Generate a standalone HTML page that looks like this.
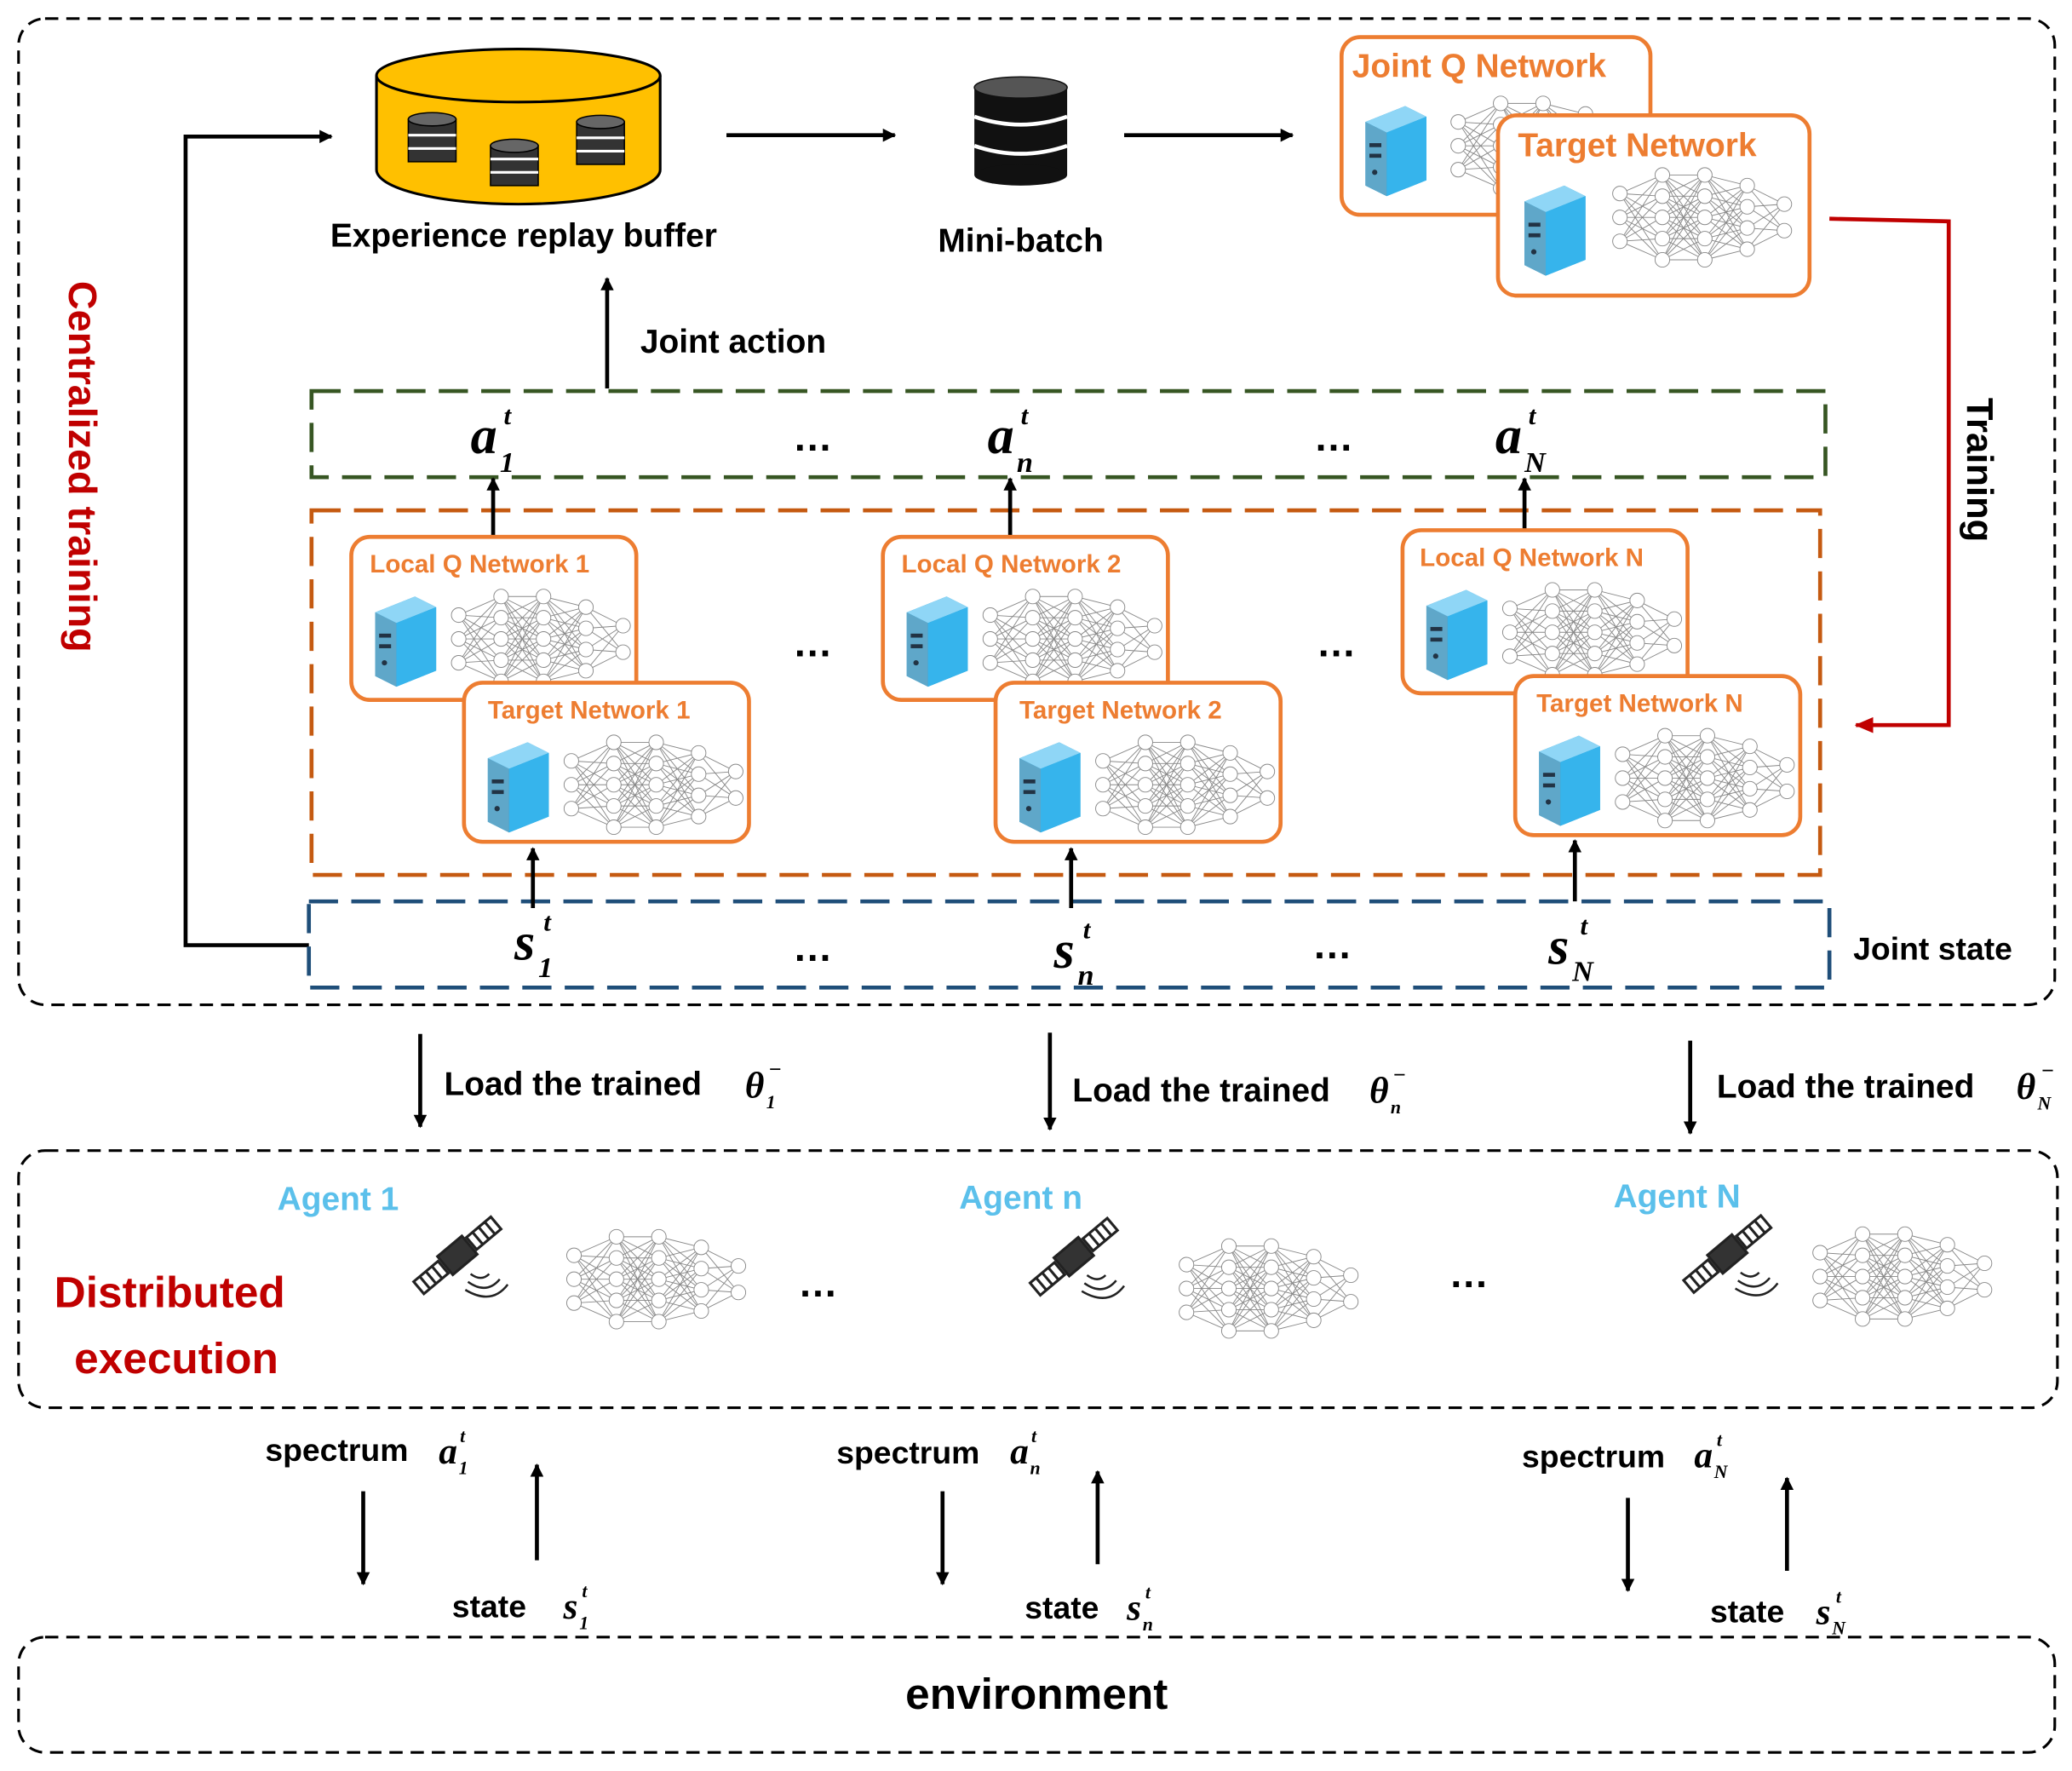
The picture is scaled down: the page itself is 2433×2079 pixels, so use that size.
<!DOCTYPE html>
<html><head><meta charset="utf-8"><style>
html,body{margin:0;padding:0;background:#fff;}
svg{display:block;}
.b{font-family:"Liberation Sans",sans-serif;font-weight:bold;}
.m{font-family:"Liberation Serif",serif;font-style:italic;font-weight:bold;}
.o{fill:#ed7d31;font-family:"Liberation Sans",sans-serif;font-weight:bold;}
.ag{fill:#5bc0eb;font-family:"Liberation Sans",sans-serif;font-weight:bold;font-size:25px;}
</style></head><body>
<svg width="2433" height="2079" viewBox="0 0 1563 1336" preserveAspectRatio="none" xmlns="http://www.w3.org/2000/svg">
<defs>
<marker id="ah" markerWidth="10" markerHeight="10" refX="9" refY="5" orient="auto" markerUnits="userSpaceOnUse"><path d="M0,0 L10,5 L0,10 z" fill="#000"/></marker>
<marker id="ar" markerWidth="14" markerHeight="12" refX="13" refY="6" orient="auto" markerUnits="userSpaceOnUse"><path d="M0,0 L14,6 L0,12 z" fill="#c00000"/></marker>
<g id="net" stroke="#888" stroke-width="0.6" fill="#fff">
<g>
<path d="M0,22 L32,8 M0,22 L32,24 M0,22 L32,40 M0,22 L32,56 M0,22 L32,72 M0,40 L32,8 M0,40 L32,24 M0,40 L32,40 M0,40 L32,56 M0,40 L32,72 M0,58 L32,8 M0,58 L32,24 M0,58 L32,40 M0,58 L32,56 M0,58 L32,72"/>
<path d="M32,8 L64,8 M32,8 L64,24 M32,8 L64,40 M32,8 L64,56 M32,8 L64,72 M32,24 L64,8 M32,24 L64,24 M32,24 L64,40 M32,24 L64,56 M32,24 L64,72 M32,40 L64,8 M32,40 L64,24 M32,40 L64,40 M32,40 L64,56 M32,40 L64,72 M32,56 L64,8 M32,56 L64,24 M32,56 L64,40 M32,56 L64,56 M32,56 L64,72 M32,72 L64,8 M32,72 L64,24 M32,72 L64,40 M32,72 L64,56 M32,72 L64,72"/>
<path d="M64,8 L96,16 M64,8 L96,32 M64,8 L96,48 M64,8 L96,64 M64,24 L96,16 M64,24 L96,32 M64,24 L96,48 M64,24 L96,64 M64,40 L96,16 M64,40 L96,32 M64,40 L96,48 M64,40 L96,64 M64,56 L96,16 M64,56 L96,32 M64,56 L96,48 M64,56 L96,64 M64,72 L96,16 M64,72 L96,32 M64,72 L96,48 M64,72 L96,64"/>
<path d="M96,16 L124,30 M96,32 L124,30 M96,48 L124,30 M96,64 L124,30 M96,16 L124,50 M96,32 L124,50 M96,48 L124,50 M96,64 L124,50"/>
</g>
<circle cx="0" cy="22" r="5.5"/><circle cx="0" cy="40" r="5.5"/><circle cx="0" cy="58" r="5.5"/>
<circle cx="32" cy="8" r="5.5"/><circle cx="32" cy="24" r="5.5"/><circle cx="32" cy="40" r="5.5"/><circle cx="32" cy="56" r="5.5"/><circle cx="32" cy="72" r="5.5"/>
<circle cx="64" cy="8" r="5.5"/><circle cx="64" cy="24" r="5.5"/><circle cx="64" cy="40" r="5.5"/><circle cx="64" cy="56" r="5.5"/><circle cx="64" cy="72" r="5.5"/>
<circle cx="96" cy="16" r="5.5"/><circle cx="96" cy="32" r="5.5"/><circle cx="96" cy="48" r="5.5"/><circle cx="96" cy="64" r="5.5"/>
<circle cx="124" cy="30" r="5.5"/><circle cx="124" cy="50" r="5.5"/>
</g>
<g id="srv">
<path d="M0,12 L30,0 L46,8 L46,56 L16,68 L0,60 z" fill="#1b9ad6"/>
<path d="M0,12 L30,0 L46,8 L16,20 z" fill="#8fd6f6"/>
<path d="M16,20 L46,8 L46,56 L16,68 z" fill="#36b4ec"/>
<path d="M0,12 L16,20 L16,68 L0,60 z" fill="#5fa7c9"/>
<rect x="3" y="28" width="9" height="3" fill="#234"/><rect x="3" y="36" width="9" height="3" fill="#234"/><circle cx="7" cy="50" r="2" fill="#234"/>
</g>
<g id="sat" stroke="#222" stroke-width="2" fill="#fff">
<g transform="rotate(-40)">
<rect x="-38" y="-6" width="24" height="12" fill="#fff"/>
<path d="M-32,-6 v12 M-26,-6 v12 M-20,-6 v12"/>
<rect x="14" y="-6" width="24" height="12"/>
<path d="M20,-6 v12 M26,-6 v12 M32,-6 v12"/>
<rect x="-12" y="-9" width="24" height="18" fill="#333"/>
</g>
<path d="M10,14 q8,6 14,0 M8,20 q14,10 24,-2 M6,26 q20,12 32,-4" fill="none" stroke-width="1.6"/>
</g>
</defs>

<!-- outer boxes -->
<rect x="14" y="14" width="1536" height="744" rx="20" fill="none" stroke="#000" stroke-width="2" stroke-dasharray="10,6"/>
<rect x="14" y="868" width="1538" height="194" rx="20" fill="none" stroke="#000" stroke-width="2" stroke-dasharray="10,6"/>
<rect x="14" y="1235" width="1536" height="87" rx="20" fill="none" stroke="#000" stroke-width="2" stroke-dasharray="10,6"/>

<!-- replay buffer -->
<path d="M284,57 L284,128 A107,26 0 0 0 498,128 L498,57" fill="#ffc000" stroke="#000" stroke-width="2"/>
<ellipse cx="391" cy="57" rx="107" ry="20" fill="#ffc000" stroke="#000" stroke-width="2"/>
<g fill="#333" stroke="#000">
<rect x="308" y="90" width="36" height="32"/><ellipse cx="326" cy="90" rx="18" ry="5" fill="#666"/>
<rect x="370" y="110" width="36" height="30"/><ellipse cx="388" cy="110" rx="18" ry="5" fill="#666"/>
<rect x="435" y="92" width="36" height="32"/><ellipse cx="453" cy="92" rx="18" ry="5" fill="#666"/>
</g>
<g stroke="#fff" stroke-width="2"><path d="M308,102 h36 M308,112 h36 M370,120 h36 M370,130 h36 M435,104 h36 M435,114 h36"/></g>
<text x="395" y="186" class="b" font-size="25" text-anchor="middle">Experience replay buffer</text>

<line x1="548" y1="102" x2="675" y2="102" stroke="#000" stroke-width="3" marker-end="url(#ah)"/>
<!-- mini-batch -->
<g>
<rect x="735" y="66" width="70" height="66" fill="#111"/>
<ellipse cx="770" cy="132" rx="35" ry="8" fill="#111"/>
<ellipse cx="770" cy="66" rx="35" ry="8" fill="#555" stroke="#111"/>
<path d="M735,88 q35,12 70,0 M735,110 q35,12 70,0" stroke="#fff" stroke-width="3" fill="none"/>
</g>
<text x="770" y="190" class="b" font-size="25" text-anchor="middle">Mini-batch</text>
<line x1="848" y1="102" x2="975" y2="102" stroke="#000" stroke-width="3" marker-end="url(#ah)"/>

<!-- joint Q / target -->
<rect x="1012" y="28" width="233" height="134" rx="14" fill="#fff" stroke="#ed7d31" stroke-width="3"/>
<text x="1020" y="58" class="o" font-size="25">Joint Q Network</text>
<use href="#srv" x="1030" y="80"/>
<use href="#net" x="1100" y="70"/>
<rect x="1130" y="87" width="235" height="136" rx="14" fill="#fff" stroke="#ed7d31" stroke-width="3"/>
<text x="1145" y="118" class="o" font-size="25">Target Network</text>
<use href="#srv" x="1150" y="140"/>
<use href="#net" x="1222" y="124"/>

<!-- red training line -->
<polyline points="1380,165 1470,167 1470,547 1400,547" fill="none" stroke="#c00000" stroke-width="3" marker-end="url(#ar)"/>
<text transform="translate(1484,300) rotate(90)" class="b" font-size="28">Training</text>
<text transform="translate(52,212) rotate(90)" class="b" font-size="30" fill="#c00000">Centralized training</text>

<!-- feedback line -->
<polyline points="233,713 140,713 140,103 250,103" fill="none" stroke="#000" stroke-width="3" marker-end="url(#ah)"/>

<!-- joint action -->
<line x1="458" y1="293" x2="458" y2="210" stroke="#000" stroke-width="3" marker-end="url(#ah)"/>
<text x="483" y="266" class="b" font-size="25">Joint action</text>

<!-- action box -->
<rect x="235" y="295" width="1142" height="65" fill="none" stroke="#375623" stroke-width="3" stroke-dasharray="22,10"/>
<text x="355" y="342" class="m" font-size="40">a</text><text x="377" y="356" class="m" font-size="22">1</text><text x="380" y="320" class="m" font-size="20">t</text>
<text x="745" y="342" class="m" font-size="40">a</text><text x="767" y="356" class="m" font-size="22">n</text><text x="770" y="320" class="m" font-size="20">t</text>
<text x="1128" y="342" class="m" font-size="40">a</text><text x="1150" y="356" class="m" font-size="22">N</text><text x="1153" y="320" class="m" font-size="20">t</text>
<text x="613" y="340" class="b" font-size="30" text-anchor="middle">…</text>
<text x="1006" y="340" class="b" font-size="30" text-anchor="middle">…</text>

<!-- orange dashed -->
<rect x="235" y="385" width="1138" height="275" fill="none" stroke="#c55a11" stroke-width="3" stroke-dasharray="22,10"/>
<line x1="372" y1="405" x2="372" y2="361" stroke="#000" stroke-width="3" marker-end="url(#ah)"/>
<line x1="762" y1="405" x2="762" y2="361" stroke="#000" stroke-width="3" marker-end="url(#ah)"/>
<line x1="1150" y1="400" x2="1150" y2="361" stroke="#000" stroke-width="3" marker-end="url(#ah)"/>

<g>
<rect x="265" y="405" width="215" height="123" rx="14" fill="#fff" stroke="#ed7d31" stroke-width="3"/>
<text x="279" y="432" class="o" font-size="19">Local Q Network 1</text>
<use href="#srv" x="283" y="450"/><use href="#net" x="346" y="442"/>
<rect x="350" y="515" width="215" height="120" rx="14" fill="#fff" stroke="#ed7d31" stroke-width="3"/>
<text x="368" y="542" class="o" font-size="19">Target Network 1</text>
<use href="#srv" x="368" y="560"/><use href="#net" x="431" y="552"/>
</g>
<g>
<rect x="666" y="405" width="215" height="123" rx="14" fill="#fff" stroke="#ed7d31" stroke-width="3"/>
<text x="680" y="432" class="o" font-size="19">Local Q Network 2</text>
<use href="#srv" x="684" y="450"/><use href="#net" x="747" y="442"/>
<rect x="751" y="515" width="215" height="120" rx="14" fill="#fff" stroke="#ed7d31" stroke-width="3"/>
<text x="769" y="542" class="o" font-size="19">Target Network 2</text>
<use href="#srv" x="769" y="560"/><use href="#net" x="832" y="552"/>
</g>
<g>
<rect x="1058" y="400" width="215" height="123" rx="14" fill="#fff" stroke="#ed7d31" stroke-width="3"/>
<text x="1071" y="427" class="o" font-size="19">Local Q Network N</text>
<use href="#srv" x="1076" y="445"/><use href="#net" x="1139" y="437"/>
<rect x="1143" y="510" width="215" height="120" rx="14" fill="#fff" stroke="#ed7d31" stroke-width="3"/>
<text x="1159" y="537" class="o" font-size="19">Target Network N</text>
<use href="#srv" x="1161" y="555"/><use href="#net" x="1224" y="547"/>
</g>
<text x="613" y="495" class="b" font-size="30" text-anchor="middle">…</text>
<text x="1008" y="495" class="b" font-size="30" text-anchor="middle">…</text>

<!-- state box -->
<rect x="233" y="680" width="1147" height="65" fill="none" stroke="#1f4e79" stroke-width="3" stroke-dasharray="22,10"/>
<line x1="402" y1="685" x2="402" y2="640" stroke="#000" stroke-width="3" marker-end="url(#ah)"/>
<line x1="808" y1="685" x2="808" y2="640" stroke="#000" stroke-width="3" marker-end="url(#ah)"/>
<line x1="1188" y1="680" x2="1188" y2="634" stroke="#000" stroke-width="3" marker-end="url(#ah)"/>
<text x="388" y="724" class="m" font-size="40">s</text><text x="406" y="737" class="m" font-size="22">1</text><text x="410" y="702" class="m" font-size="20">t</text>
<text x="795" y="730" class="m" font-size="40">s</text><text x="813" y="743" class="m" font-size="22">n</text><text x="817" y="708" class="m" font-size="20">t</text>
<text x="1168" y="727" class="m" font-size="40">s</text><text x="1186" y="740" class="m" font-size="22">N</text><text x="1192" y="705" class="m" font-size="20">t</text>
<text x="613" y="725" class="b" font-size="30" text-anchor="middle">…</text>
<text x="1005" y="723" class="b" font-size="30" text-anchor="middle">…</text>
<text x="1398" y="724" class="b" font-size="24">Joint state</text>

<!-- load arrows -->
<line x1="317" y1="780" x2="317" y2="850" stroke="#000" stroke-width="3" marker-end="url(#ah)"/>
<text x="335" y="826" class="b" font-size="25">Load the trained</text>
<text x="562" y="828" class="m" font-size="28">θ</text><text x="578" y="836" class="m" font-size="14">1</text><text x="580" y="812" font-size="16" font-family="Liberation Sans">−</text>
<line x1="792" y1="779" x2="792" y2="852" stroke="#000" stroke-width="3" marker-end="url(#ah)"/>
<text x="809" y="831" class="b" font-size="25">Load the trained</text>
<text x="1033" y="832" class="m" font-size="28">θ</text><text x="1049" y="840" class="m" font-size="14">n</text><text x="1051" y="816" font-size="16" font-family="Liberation Sans">−</text>
<line x1="1275" y1="785" x2="1275" y2="855" stroke="#000" stroke-width="3" marker-end="url(#ah)"/>
<text x="1295" y="828" class="b" font-size="25">Load the trained</text>
<text x="1521" y="829" class="m" font-size="28">θ</text><text x="1537" y="837" class="m" font-size="14">N</text><text x="1540" y="813" font-size="16" font-family="Liberation Sans">−</text>

<!-- distributed -->
<text x="128" y="986" class="b" font-size="33" fill="#c00000" text-anchor="middle">Distributed</text>
<text x="133" y="1036" class="b" font-size="33" fill="#c00000" text-anchor="middle">execution</text>
<text x="255" y="913" class="ag" text-anchor="middle">Agent 1</text>
<text x="770" y="912" class="ag" text-anchor="middle">Agent n</text>
<text x="1265" y="911" class="ag" text-anchor="middle">Agent N</text>
<use href="#sat" x="345" y="947"/>
<use href="#sat" x="810" y="948"/>
<use href="#sat" x="1303" y="946"/>
<use href="#net" x="433" y="925"/>
<use href="#net" x="895" y="932"/>
<use href="#net" x="1373" y="923"/>
<text x="617" y="978" class="b" font-size="30" text-anchor="middle">…</text>
<text x="1108" y="971" class="b" font-size="30" text-anchor="middle">…</text>

<!-- spectrum/state -->
<text x="200" y="1102" class="b" font-size="24">spectrum</text>
<text x="331" y="1104" class="m" font-size="28">a</text><text x="346" y="1112" class="m" font-size="14">1</text><text x="347" y="1088" class="m" font-size="14">t</text>
<line x1="274" y1="1125" x2="274" y2="1195" stroke="#000" stroke-width="3" marker-end="url(#ah)"/>
<line x1="405" y1="1177" x2="405" y2="1105" stroke="#000" stroke-width="3" marker-end="url(#ah)"/>
<text x="341" y="1220" class="b" font-size="24">state</text>
<text x="425" y="1221" class="m" font-size="28">s</text><text x="437" y="1229" class="m" font-size="14">1</text><text x="439" y="1205" class="m" font-size="14">t</text>

<text x="631" y="1104" class="b" font-size="24">spectrum</text>
<text x="762" y="1104" class="m" font-size="28">a</text><text x="777" y="1112" class="m" font-size="14">n</text><text x="778" y="1088" class="m" font-size="14">t</text>
<line x1="711" y1="1125" x2="711" y2="1195" stroke="#000" stroke-width="3" marker-end="url(#ah)"/>
<line x1="828" y1="1180" x2="828" y2="1110" stroke="#000" stroke-width="3" marker-end="url(#ah)"/>
<text x="773" y="1221" class="b" font-size="24">state</text>
<text x="850" y="1222" class="m" font-size="28">s</text><text x="862" y="1230" class="m" font-size="14">n</text><text x="864" y="1206" class="m" font-size="14">t</text>

<text x="1148" y="1107" class="b" font-size="24">spectrum</text>
<text x="1278" y="1107" class="m" font-size="28">a</text><text x="1293" y="1115" class="m" font-size="14">N</text><text x="1295" y="1091" class="m" font-size="14">t</text>
<line x1="1228" y1="1130" x2="1228" y2="1200" stroke="#000" stroke-width="3" marker-end="url(#ah)"/>
<line x1="1348" y1="1185" x2="1348" y2="1115" stroke="#000" stroke-width="3" marker-end="url(#ah)"/>
<text x="1290" y="1224" class="b" font-size="24">state</text>
<text x="1370" y="1225" class="m" font-size="28">s</text><text x="1382" y="1233" class="m" font-size="14">N</text><text x="1385" y="1209" class="m" font-size="14">t</text>

<text x="782" y="1289" class="b" font-size="33" text-anchor="middle">environment</text>
</svg>
</body></html>
